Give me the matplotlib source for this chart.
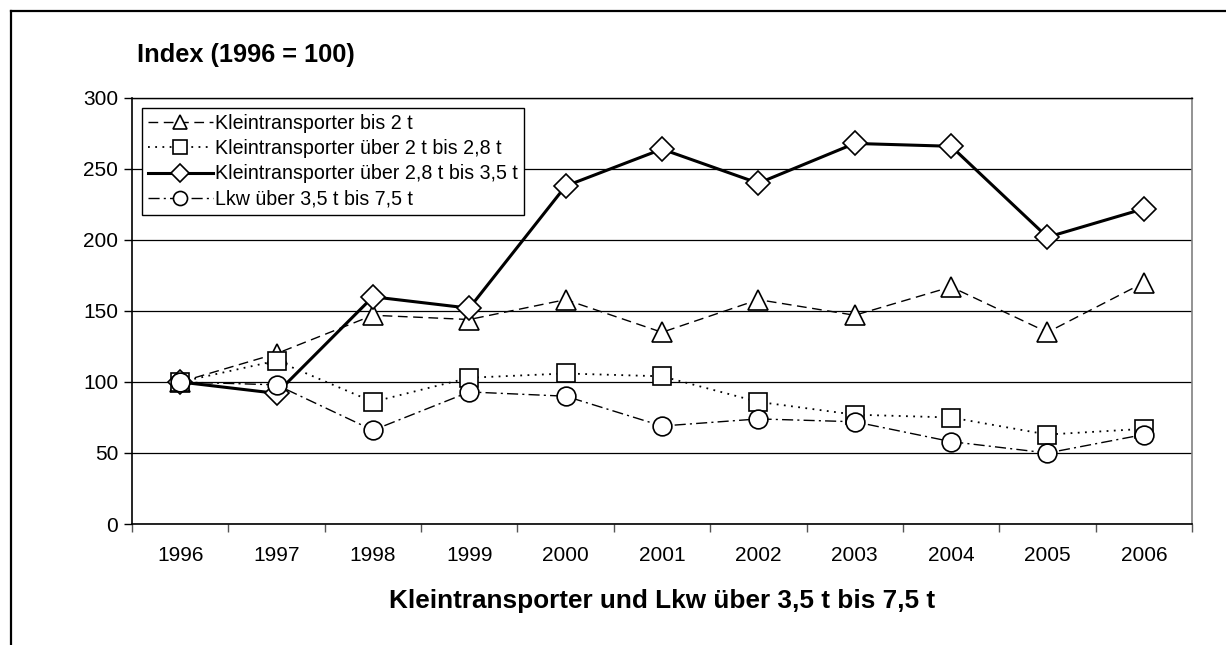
import matplotlib.pyplot as plt
from matplotlib.lines import Line2D

plt.rcParams['font.family'] = ['Liberation Sans', 'DejaVu Sans']

years = ['1996', '1997', '1998', '1999', '2000', '2001', '2002', '2003', '2004', '2005', '2006']

bis_2t = [100, 120, 147, 144, 158, 135, 158, 147, 167, 135, 170]
bis_2_8t = [100, 115, 86, 103, 106, 104, 86, 77, 75, 63, 67]
bis_3_5t = [100, 92, 160, 152, 238, 264, 240, 268, 266, 202, 222]
lkw_7_5t = [100, 98, 66, 93, 90, 69, 74, 72, 58, 50, 63]

labels = [
    'Kleintransporter bis 2 t',
    'Kleintransporter über 2 t bis 2,8 t',
    'Kleintransporter über 2,8 t bis 3,5 t',
    'Lkw über 3,5 t bis 7,5 t',
]

W, H = 1226, 645
fig = plt.figure(figsize=(W / 100, H / 100), dpi=100)

# Rahmen um das Diagramm (nur links und oben sichtbar, Rest abgeschnitten)
fig.add_artist(Line2D([11 / W, 11 / W], [0, 1 - 11 / H], color='black', lw=1.6,
                      transform=fig.transFigure))
fig.add_artist(Line2D([11 / W, 1], [1 - 11 / H, 1 - 11 / H], color='black', lw=1.6,
                      transform=fig.transFigure))

ax = fig.add_axes([132 / W, 121 / H, 1060 / W, 426 / H])
x = range(len(years))

ax.plot(x, bis_2t, color='black', lw=1.0, dashes=(7, 4), marker='^', ms=14,
        mfc='white', mec='black', mew=1.2, label=labels[0])
ax.plot(x, bis_2_8t, color='black', lw=1.3, linestyle=(0, (1, 3)), marker='s', ms=13,
        mfc='white', mec='black', mew=1.2, label=labels[1])
ax.plot(x, bis_3_5t, color='black', lw=2.2, linestyle='-', marker='D', ms=12,
        mfc='white', mec='black', mew=1.2, label=labels[2])
ax.plot(x, lkw_7_5t, color='black', lw=1.0, linestyle=(0, (8, 3, 1.5, 3)), marker='o', ms=13.5,
        mfc='white', mec='black', mew=1.2, label=labels[3])

ax.set_xlim(-0.5, len(years) - 0.5)
ax.set_ylim(0, 300)
ax.set_yticks(range(0, 301, 50))
ax.yaxis.grid(True, color='black', lw=0.9)
ax.set_axisbelow(True)

ax.set_xticks([i - 0.5 for i in range(len(years) + 1)])
ax.set_xticklabels([])
ax.set_xticks(list(x), minor=True)
ax.set_xticklabels(years, minor=True)
ax.tick_params(axis='x', which='major', direction='out', length=6, width=1, color='#555555')
ax.tick_params(axis='x', which='minor', length=0, pad=16, labelsize=15)
ax.tick_params(axis='y', direction='out', length=6, width=1, labelsize=15, pad=4)

for side in ['left', 'bottom']:
    ax.spines[side].set_color('black')
    ax.spines[side].set_linewidth(1.2)
ax.spines['top'].set_color('black')
ax.spines['top'].set_linewidth(1.0)
ax.spines['right'].set_color('#808080')
ax.spines['right'].set_linewidth(1.2)

leg = ax.legend(loc='upper left', bbox_to_anchor=(10 / 1060, 416 / 426), fontsize=14.1,
                frameon=True, fancybox=False, edgecolor='black', framealpha=1,
                handlelength=3.3, handletextpad=0.15, borderpad=0.3, labelspacing=0.32,
                borderaxespad=0, markerscale=0.75)
leg.get_frame().set_linewidth(1.0)

fig.text(137 / W, 1 - 62 / H, 'Index (1996 = 100)', fontsize=18.3, fontweight='bold',
         va='baseline', ha='left')
fig.text(662 / W, 1 - 608 / H, 'Kleintransporter und Lkw über 3,5 t bis 7,5 t',
         fontsize=18.8, fontweight='bold', va='baseline', ha='center')

fig.savefig('out.png', dpi=100)
